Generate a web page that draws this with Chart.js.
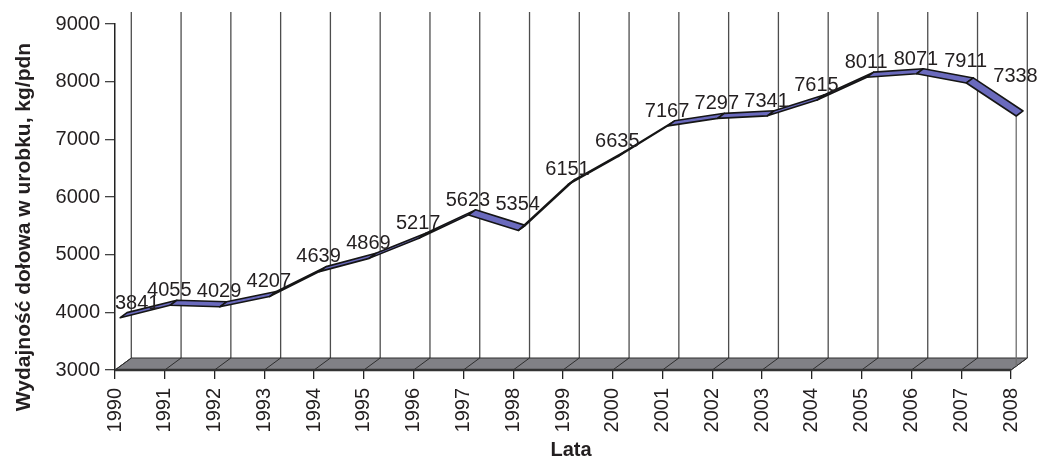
<!DOCTYPE html>
<html>
<head>
<meta charset="utf-8">
<script src="https://cdn.jsdelivr.net/npm/chart.js@4/dist/chart.umd.min.js"></script>
<style>
  html, body { margin: 0; padding: 0; background: #fff; }
  canvas { display: block; }
</style>
</head>
<body>
<canvas id="chart" width="1050" height="460"></canvas>
<script>
// Underground output per man-shift, 1990–2008
const years = ['1990', '1991', '1992', '1993', '1994', '1995', '1996', '1997', '1998', '1999',
               '2000', '2001', '2002', '2003', '2004', '2005', '2006', '2007', '2008'];
const outputKg = [3841, 4055, 4029, 4207, 4639, 4869, 5217, 5623, 5354, 6151,
                  6635, 7167, 7297, 7341, 7615, 8011, 8071, 7911, 7338];
const yMin = 3000;
const yMax = 9000;
const yStep = 1000;
const yTitle = 'Wydajność dołowa w urobku, kg/pdn';
const xTitle = 'Lata';

const INK = '#231f20';
const FONT = "'Liberation Sans', Arial, Helvetica, sans-serif";
const DEPTH = { x: 16.3, y: -12 };        // screen offset of the full chart depth
const RIBBON = { front: 0.32, back: 0.74 }; // ribbon position inside the depth
const RIBBON_FILL = '#6a6abd';

function line(ctx, x1, y1, x2, y2) {
  ctx.beginPath();
  ctx.moveTo(x1, y1);
  ctx.lineTo(x2, y2);
  ctx.stroke();
}

function poly(ctx, pts) {
  ctx.beginPath();
  ctx.moveTo(pts[0][0], pts[0][1]);
  for (let i = 1; i < pts.length; i++) ctx.lineTo(pts[i][0], pts[i][1]);
  ctx.closePath();
}

// Floor, back-wall grid and the 3D ribbon
const scene3d = {
  id: 'scene3d',
  beforeDatasetsDraw(chart) {
    const { ctx, scales: { x, y } } = chart;
    const base = y.getPixelForValue(yMin);
    const top = y.getPixelForValue(yMax);
    const n = years.length;
    const xa = x.getPixelForValue(0);
    const xb = x.getPixelForValue(n - 1);
    ctx.save();

    // back wall: vertical grid lines
    ctx.strokeStyle = '#4d4d4d';
    ctx.lineWidth = 1.3;
    for (let i = 0; i < n; i++) {
      const px = x.getPixelForValue(i) + DEPTH.x;
      line(ctx, px, base + DEPTH.y, px, top + DEPTH.y);
    }

    // floor
    poly(ctx, [[xa, base], [xb, base], [xb + DEPTH.x, base + DEPTH.y], [xa + DEPTH.x, base + DEPTH.y]]);
    ctx.fillStyle = '#818186';
    ctx.fill();
    ctx.strokeStyle = '#2e2e2e';
    ctx.lineWidth = 1;
    ctx.stroke();
    for (let i = 0; i < n; i++) {
      const px = x.getPixelForValue(i);
      line(ctx, px, base, px + DEPTH.x, base + DEPTH.y);
    }
    ctx.strokeStyle = '#333';
    ctx.lineWidth = 2.5;
    line(ctx, xa, base, xb, base);
    ctx.restore();
  },

  afterDatasetsDraw(chart) {
    const { ctx, chartArea, scales: { x, y } } = chart;
    const pts = chart.getDatasetMeta(0).data;
    const base = y.getPixelForValue(yMin);
    const f = RIBBON.front, b = RIBBON.back;
    ctx.save();

    // drop edge under the last point
    const last = pts[pts.length - 1];
    ctx.strokeStyle = '#6e6e6e';
    ctx.lineWidth = 1.3;
    line(ctx, last.x + f * DEPTH.x, last.y + f * DEPTH.y, last.x + f * DEPTH.x, base + f * DEPTH.y);

    // ribbon segments
    ctx.lineJoin = 'round';
    for (let i = 0; i < pts.length - 1; i++) {
      const p = pts[i], q = pts[i + 1];
      poly(ctx, [
        [p.x + f * DEPTH.x, p.y + f * DEPTH.y],
        [q.x + f * DEPTH.x, q.y + f * DEPTH.y],
        [q.x + b * DEPTH.x, q.y + b * DEPTH.y],
        [p.x + b * DEPTH.x, p.y + b * DEPTH.y]
      ]);
      ctx.fillStyle = RIBBON_FILL;
      ctx.fill();
      ctx.strokeStyle = '#151515';
      ctx.lineWidth = 1.6;
      ctx.stroke();
    }

    // value labels
    ctx.font = '20px ' + FONT;
    ctx.fillStyle = INK;
    ctx.textAlign = 'left';
    ctx.textBaseline = 'alphabetic';
    pts.forEach((p, i) => {
      const txt = String(outputKg[i]);
      const w = ctx.measureText(txt).width;
      const drop = i > 0 ? Math.max(0, p.y - pts[i - 1].y) : 0;
      let left = p.x + 4.5 - w / 2;
      if (left < chartArea.left) left = chartArea.left;
      ctx.fillText(txt, left, p.y - 13 - 0.75 * drop);
    });
    ctx.restore();
  },

  afterDraw(chart) {
    const { ctx, chartArea } = chart;
    ctx.save();
    ctx.fillStyle = INK;
    ctx.textAlign = 'center';
    ctx.textBaseline = 'middle';
    ctx.font = 'bold 21px ' + FONT;
    ctx.translate(24, chartArea.bottom - 143);
    ctx.rotate(-Math.PI / 2);
    ctx.fillText(yTitle, 0, 0);
    ctx.restore();

    ctx.save();
    ctx.fillStyle = INK;
    ctx.textAlign = 'center';
    ctx.textBaseline = 'alphabetic';
    ctx.font = 'bold 20px ' + FONT;
    ctx.fillText(xTitle, (chartArea.left + chartArea.right) / 2 + 8, 456);
    ctx.restore();
  }
};

Chart.defaults.font.family = FONT;
Chart.defaults.color = INK;

new Chart(document.getElementById('chart'), {
  type: 'line',
  data: {
    labels: years,
    datasets: [{
      data: outputKg,
      showLine: false,
      pointRadius: 0,
      pointHoverRadius: 0,
      borderWidth: 0
    }]
  },
  options: {
    responsive: false,
    animation: false,
    events: [],
    layout: { padding: { top: 24, right: 39, left: 0, bottom: 0 } },
    plugins: { legend: { display: false }, tooltip: { enabled: false } },
    scales: {
      x: {
        type: 'category',
        offset: false,
        afterFit(s) { s.height = 90; },
        border: { display: false },
        grid: { drawOnChartArea: false, drawTicks: true, tickLength: 9, color: '#222', lineWidth: 1.3 },
        ticks: { autoSkip: false, minRotation: 90, maxRotation: 90, padding: 9, font: { size: 20 }, color: INK }
      },
      y: {
        min: yMin,
        max: yMax,
        afterFit(s) { s.width = 115; },
        border: { display: true, color: '#222', width: 1.5 },
        grid: { drawOnChartArea: false, drawTicks: true, tickLength: 10, color: '#444', lineWidth: 1.3 },
        ticks: {
          stepSize: yStep,
          padding: 5,
          font: { size: 20 },
          color: INK,
          callback: (v) => String(v)
        }
      }
    }
  },
  plugins: [scene3d]
});
</script>
</body>
</html>
